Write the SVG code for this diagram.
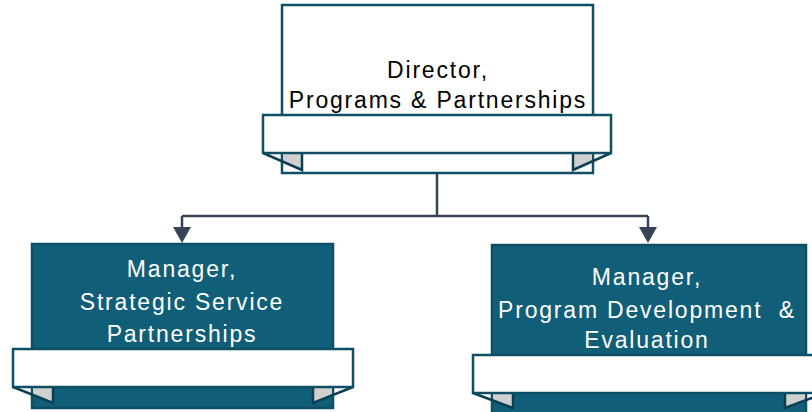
<svg xmlns="http://www.w3.org/2000/svg" width="812" height="412" viewBox="0 0 812 412">
<style>
.main{stroke:#0e4f66;stroke-width:2.5}
.band{fill:#ffffff;stroke:#0e4f66;stroke-width:2.5}
.fold{fill:#d0d0d0;stroke:none}
.foldline{fill:none;stroke:#0b3f52;stroke-width:2.5;stroke-linejoin:miter}
.conn{fill:none;stroke:#36445a;stroke-width:2.5}
.t{font-family:"Liberation Sans",Arial,sans-serif;font-size:23px;letter-spacing:1.8px;text-anchor:middle}
</style>
<rect width="812" height="412" fill="#ffffff"/>
<g id="connectors">
<path class="conn" d="M437,173 V216"/>
<path class="conn" d="M182,216 H648"/>
<path d="M182,216 V227" class="conn"/>
<path d="M648,216 V227" class="conn"/>
<path d="M173,227 L191,227 L182,243 Z" fill="#36445a"/>
<path d="M639,227 L657,227 L648,243 Z" fill="#36445a"/>
</g>
<g id="director">
<rect class="main" x="282" y="5" width="311" height="168" fill="#ffffff"/>
<polygon class="fold" points="283,154 302,154 302,170 283,162"/>
<polygon class="fold" points="573,154 592,154 592,162 573,170"/>
<polyline class="foldline" points="263,153 302,170 302,153"/>
<polyline class="foldline" points="611,153 573,170 573,153"/>
<rect class="band" x="263" y="115" width="348" height="38"/>
<text class="t" x="438" y="78" fill="#000000">Director,</text>
<text class="t" x="438" y="108" fill="#000000">Programs &amp; Partnerships</text>
</g>
<g id="manager-ssp">
<rect class="main" x="32" y="244" width="301" height="164" fill="#115e78"/>
<polygon class="fold" points="33,388 53,388 53,403 33,395"/>
<polygon class="fold" points="313,388 332,388 332,395 313,403"/>
<polyline class="foldline" points="13,387 53,403 53,387"/>
<polyline class="foldline" points="353,387 313,403 313,387"/>
<rect class="band" x="13" y="349" width="340" height="38"/>
<text class="t" x="182" y="277" fill="#ffffff">Manager,</text>
<text class="t" x="182" y="310" fill="#ffffff">Strategic Service</text>
<text class="t" x="182" y="342" fill="#ffffff">Partnerships</text>
</g>
<g id="manager-pde">
<rect class="main" x="492" y="245" width="314" height="170" fill="#115e78"/>
<polygon class="fold" points="493,394 513,394 513,408 493,400"/>
<polygon class="fold" points="785,394 805,394 805,400 785,408"/>
<polyline class="foldline" points="473,393 513,408 513,393"/>
<polyline class="foldline" points="825,393 785,408 785,393"/>
<rect class="band" x="473" y="355" width="352" height="38"/>
<text class="t" x="647" y="285" fill="#ffffff">Manager,</text>
<text class="t" x="647" y="318" fill="#ffffff" xml:space="preserve">Program Development  &amp;</text>
<text class="t" x="647" y="348" fill="#ffffff">Evaluation</text>
</g>
</svg>
